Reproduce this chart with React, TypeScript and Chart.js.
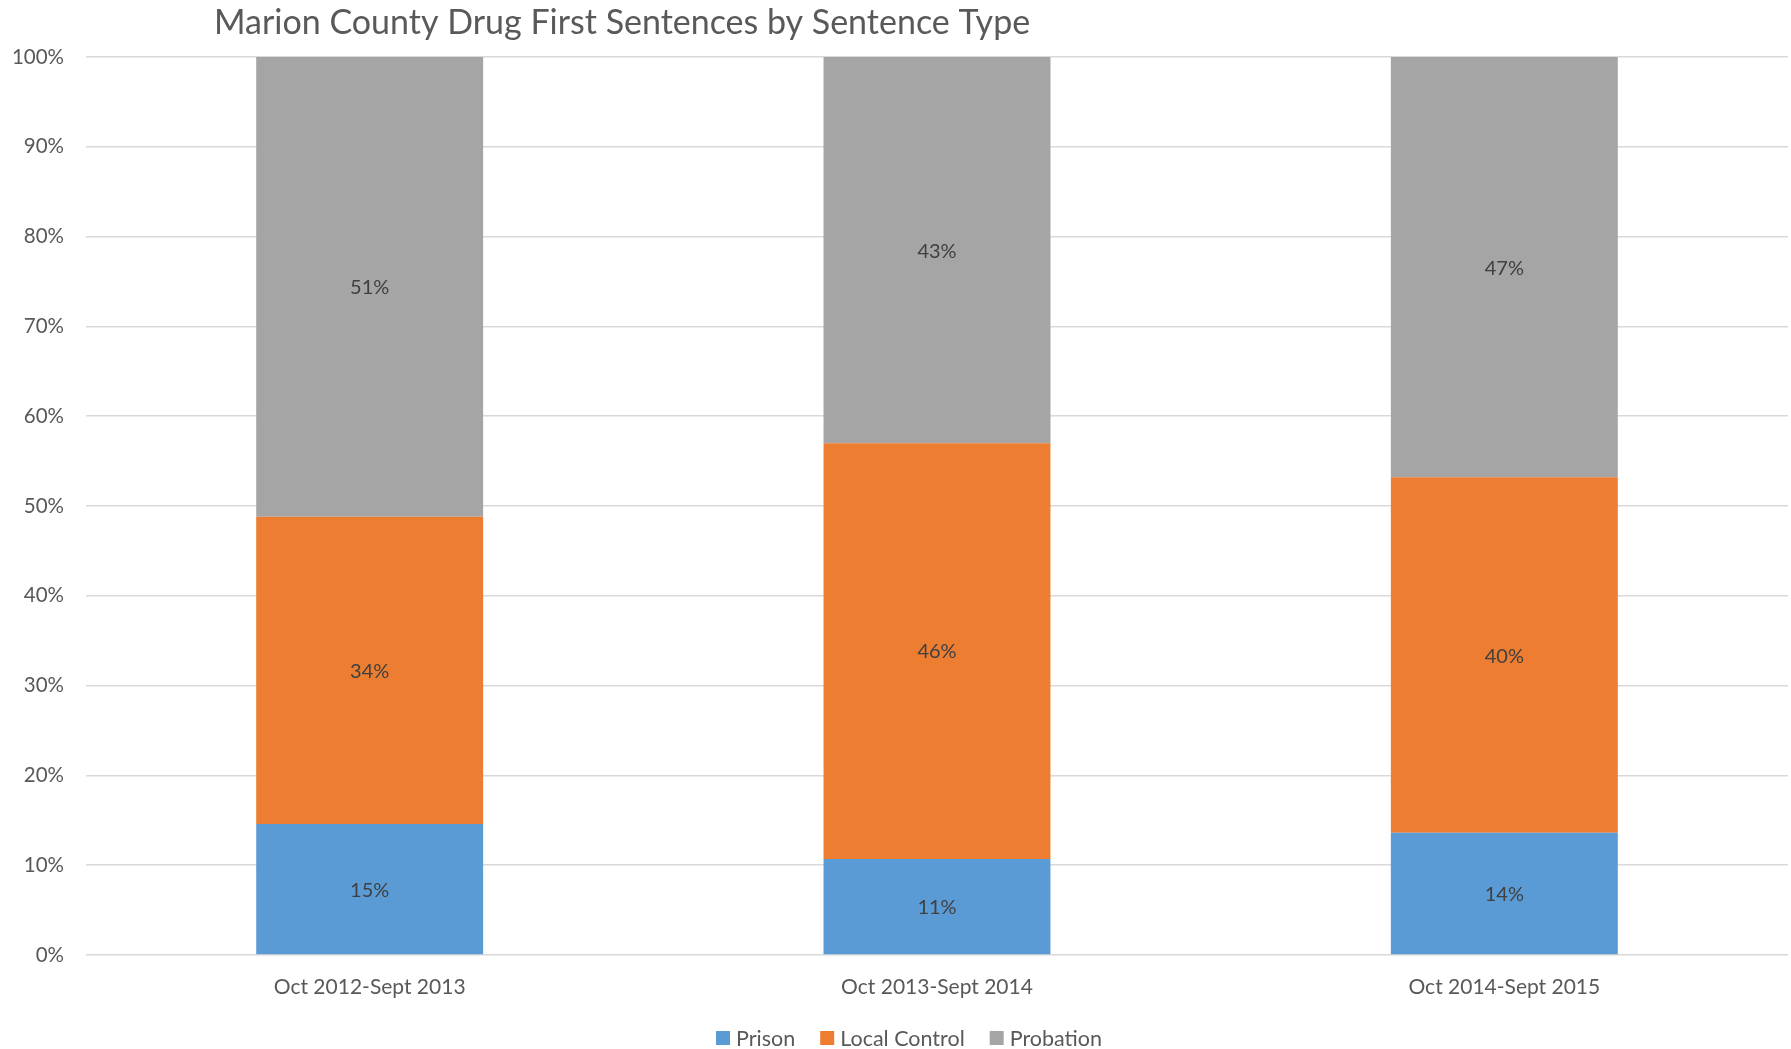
import React, { useEffect, useRef } from "react";
import { Chart, registerables } from "chart.js";

Chart.register(...registerables);

const chartTitle = "Marion County Drug First Sentences by Sentence Type";
const categories = ["Oct 2012-Sept 2013", "Oct 2013-Sept 2014", "Oct 2014-Sept 2015"];
const seriesNames = ["Prison", "Local Control", "Probation"];
const prison = [14.6, 10.7, 13.6];
const localControl = [34.2, 46.3, 39.6];
const probation = [51.2, 43.0, 46.8];
const seriesColors = ["#5B9BD5", "#ED7D31", "#A5A5A5"];
const yTickStep = 10;
const yMax = 100;

const FONT = "Lato, 'Noto Sans', sans-serif";
const TEXT = "#595959";

const titlePlugin = {
  id: "customTitle",
  afterDraw(chart: any) {
    const ctx = chart.ctx;
    ctx.save();
    ctx.font = `34px ${FONT}`;
    ctx.fillStyle = TEXT;
    ctx.textAlign = "left";
    ctx.textBaseline = "middle";
    ctx.fillText(chartTitle, 214, 23);
    ctx.restore();
  },
};

const dataLabelPlugin = {
  id: "segLabels",
  afterDatasetsDraw(chart: any) {
    const ctx = chart.ctx;
    ctx.save();
    ctx.font = `20px ${FONT}`;
    ctx.fillStyle = "#404040";
    ctx.textAlign = "center";
    ctx.textBaseline = "middle";
    chart.data.datasets.forEach((ds: any, i: number) => {
      const meta = chart.getDatasetMeta(i);
      meta.data.forEach((el: any, j: number) => {
        const { x, y, base } = el.getProps(["x", "y", "base"], true);
        ctx.fillText(Math.round(ds.data[j]) + "%", x, (y + base) / 2 + 1);
      });
    });
    ctx.restore();
  },
};

const legendPlugin = {
  id: "customLegend",
  afterDraw(chart: any) {
    const ctx = chart.ctx;
    ctx.save();
    ctx.font = `21.5px ${FONT}`;
    ctx.textBaseline = "middle";
    ctx.textAlign = "left";
    const box = 14;
    const gapBoxText = 6;
    const gapItems = 25;
    const widths = seriesNames.map((n) => box + gapBoxText + ctx.measureText(n).width);
    const total = widths.reduce((a, b) => a + b, 0) + gapItems * (seriesNames.length - 1);
    let x = 909 - total / 2;
    const cy = 1038;
    seriesNames.forEach((n, i) => {
      ctx.fillStyle = seriesColors[i];
      ctx.fillRect(x, cy - box / 2, box, box);
      ctx.fillStyle = TEXT;
      ctx.fillText(n, x + box + gapBoxText, cy + 1);
      x += widths[i] + gapItems;
    });
    ctx.restore();
  },
};

export default function App() {
  const ref = useRef<HTMLCanvasElement | null>(null);
  useEffect(() => {
    if (!ref.current) return;
    const seriesData = [prison, localControl, probation];
    const chart = new Chart(ref.current, {
      type: "bar",
      data: {
        labels: categories,
        datasets: seriesNames.map((name, i) => ({
          label: name,
          data: seriesData[i],
          backgroundColor: seriesColors[i],
          borderWidth: 0,
          barPercentage: 0.4,
          categoryPercentage: 1.0,
        })),
      },
      options: {
        responsive: false,
        animation: false,
        devicePixelRatio: 1,
        layout: { padding: { top: 57, right: 3, left: 0, bottom: 0 } },
        plugins: {
          legend: { display: false },
          title: { display: false },
          tooltip: { enabled: false },
        },
        scales: {
          x: {
            stacked: true,
            grid: { display: false },
            border: { display: false },
            ticks: { font: { family: FONT, size: 21 }, color: TEXT, padding: 12 },
            afterFit: (s: any) => {
              s.height = 94;
            },
          },
          y: {
            stacked: true,
            min: 0,
            max: yMax,
            grid: { color: "#D9D9D9", lineWidth: 1.5, drawTicks: false },
            border: { display: false },
            ticks: {
              stepSize: yTickStep,
              font: { family: FONT, size: 20.5 },
              color: TEXT,
              padding: 22,
              callback: (v: any) => v + "%",
            },
            afterFit: (s: any) => {
              s.width = 86;
            },
          },
        },
      },
      plugins: [titlePlugin, dataLabelPlugin, legendPlugin],
    });
    return () => chart.destroy();
  }, []);
  return (
    <div style={{ position: "fixed", left: 0, top: 0, width: 1791, height: 1049, background: "#fff" }}>
      <canvas ref={ref} width={1791} height={1049} />
    </div>
  );
}
